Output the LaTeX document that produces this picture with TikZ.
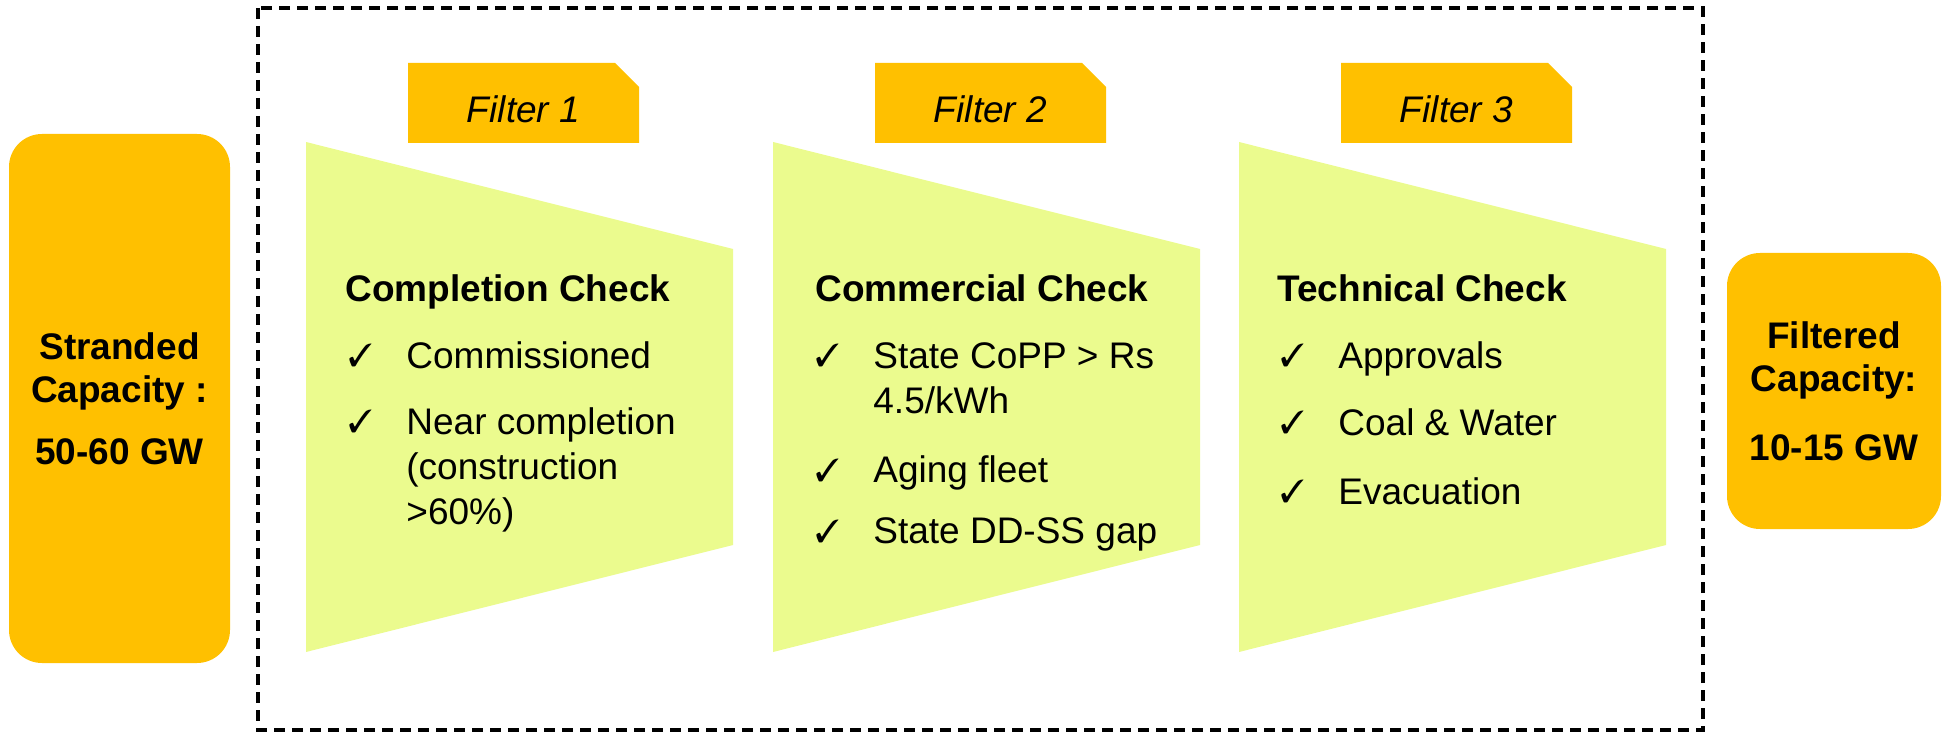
\documentclass[tikz,border=0pt]{standalone}
\usepackage{fontspec}
\setmainfont{Liberation Sans}
\usepackage{pifont}
\usetikzlibrary{shapes.misc}

\definecolor{gold}{RGB}{255,192,0}
\definecolor{limefill}{RGB}{235,251,142}

% tick in front of a check item, then the item lines
\newcommand{\tick}{\makebox[29pt][l]{\raisebox{1pt}{\fontsize{16}{16}\selectfont\ding{51}}}}
\newcommand{\checkitem}[1]{\tick\begin{tabular}[t]{@{}l@{}}#1\end{tabular}}

\tikzset{
  capbox/.style={fill=gold, rounded corners=16.5pt, align=center, inner sep=0pt,
    font=\fontsize{18.5}{21.5}\selectfont\bfseries},
  tab/.style={chamfered rectangle, chamfered rectangle corners=north east,
    chamfered rectangle xsep=6pt, chamfered rectangle ysep=6pt,
    fill=gold, minimum width=115.5pt, minimum height=40pt, inner sep=0pt,
    text height=19.5pt, text depth=0pt,
    font=\fontsize{18.5}{20}\selectfont\itshape},
  head/.style={anchor=base west, inner sep=0pt, font=\fontsize{18.5}{22}\selectfont\bfseries},
  item/.style={anchor=base west, inner sep=0pt, font=\fontsize{18.5}{22.5}\selectfont},
}

\begin{document}
\begin{tikzpicture}[x=0.5pt,y=-0.5pt]
\useasboundingbox (0,0) rectangle (1944,732);

% dashed frame round the three filters
\draw[line width=2pt, dash pattern=on 5.5pt off 3.5pt] (258,8) rectangle (1703,730);

% funnels and their tabs
\foreach \dx/\n in {0/1,467/2,933/3}{
  \fill[limefill] ({306+\dx},142) -- ({733+\dx},249) -- ({733+\dx},545)
    -- ({306+\dx},652) -- cycle;
  \node[tab] (tab\n) at ({523.5+\dx},103) {Filter \n};
}

% input and output
\node[capbox, minimum width=110.5pt, minimum height=264.5pt] (stranded) at (119.5,398.5)
  {Stranded\\Capacity :\\[9.5pt]50-60 GW};
\node[capbox, minimum width=107pt, minimum height=138pt] (filtered) at (1834,391)
  {Filtered\\Capacity:\\[13pt]10-15 GW};

% filter 1
\node[head] (head1) at (345,302) {Completion Check};
\node[item] (comm) at (348,369) {\checkitem{Commissioned}};
\node[item] (near) at (348,435) {\checkitem{Near completion\\(construction\\>60\%)}};

% filter 2
\node[head] (head2) at (815,302) {Commercial Check};
\node[item] (copp) at (815,369) {\checkitem{State CoPP > Rs\\4.5/kWh}};
\node[item] (aging) at (815,483) {\checkitem{Aging fleet}};
\node[item] (gap) at (815,544) {\checkitem{State DD-SS gap}};

% filter 3
\node[head] (head3) at (1277,302) {Technical Check};
\node[item] (appr) at (1280,369) {\checkitem{Approvals}};
\node[item] (coal) at (1280,436) {\checkitem{Coal \& Water}};
\node[item] (evac) at (1280,504) {\checkitem{Evacuation}};
\end{tikzpicture}
\end{document}
